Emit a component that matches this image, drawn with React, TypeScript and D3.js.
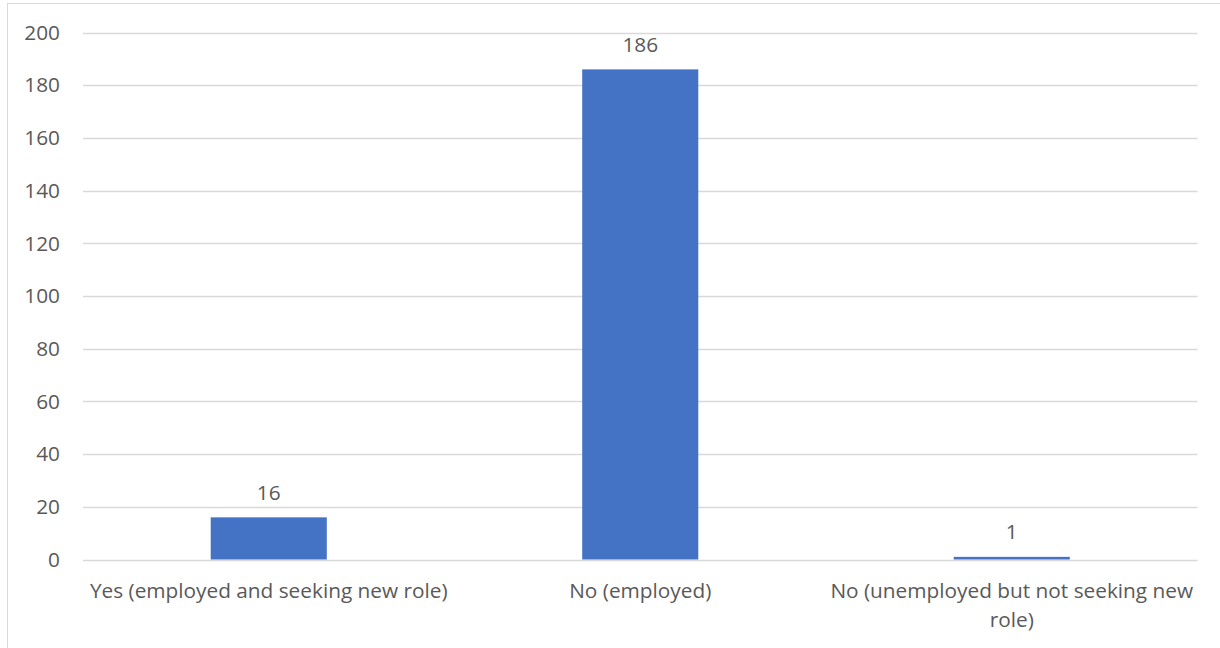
import React, { useEffect, useRef } from "react";
import * as d3 from "d3";

const categories: string[] = [
  "Yes (employed and seeking new role)",
  "No (employed)",
  "No (unemployed but not seeking new role)",
];
const values: number[] = [16, 186, 1];
const yTicks: number[] = [0, 20, 40, 60, 80, 100, 120, 140, 160, 180, 200];

const W = 1220;
const H = 648;
const FONT = "'Open Sans', 'Noto Sans', sans-serif";
const FS = 20.8;
const TEXT = "#595959";

export default function App() {
  const ref = useRef<SVGSVGElement | null>(null);

  useEffect(() => {
    const svg = d3.select(ref.current!);
    svg.selectAll("*").remove();

    const left = 83, right = 1197.5, top = 32.5, bottom = 559.5;

    svg.append("rect")
      .attr("x", 7.5).attr("y", 3.5)
      .attr("width", 1230).attr("height", 660)
      .attr("fill", "#fff").attr("stroke", "#d9d9d9").attr("stroke-width", 1);

    const x = d3.scaleBand<string>().domain(categories).range([left, right]).paddingInner(0.6875).paddingOuter(0.34375);
    const y = d3.scaleLinear().domain([0, 200]).range([bottom, top]);

    const g = svg.append("g");

    g.selectAll("line.grid").data(yTicks).join("line")
      .attr("class", "grid")
      .attr("x1", left).attr("x2", right)
      .attr("y1", (d) => Math.round(y(d)) + 0.5).attr("y2", (d) => Math.round(y(d)) + 0.5)
      .attr("stroke", "#d9d9d9").attr("stroke-width", 1.3);

    g.selectAll("text.ytick").data(yTicks).join("text")
      .attr("class", "ytick")
      .attr("x", 60).attr("y", (d) => y(d))
      .attr("dy", "0.35em")
      .attr("text-anchor", "end")
      .attr("font-family", FONT).attr("font-size", FS).attr("fill", TEXT)
      .text((d) => String(d));

    g.selectAll("rect.bar").data(values).join("rect")
      .attr("class", "bar")
      .attr("x", (_, i) => x(categories[i])!)
      .attr("width", x.bandwidth())
      .attr("y", (d) => y(d))
      .attr("height", (d) => Math.max(1.5, y(0) - y(d)))
      .attr("fill", "#4472c4");

    g.selectAll("text.lbl").data(values).join("text")
      .attr("class", "lbl")
      .attr("x", (_, i) => x(categories[i])! + x.bandwidth() / 2)
      .attr("y", (d) => y(d) - 25)
      .attr("dy", "0.35em")
      .attr("text-anchor", "middle")
      .attr("font-family", FONT).attr("font-size", FS).attr("fill", TEXT)
      .text((d) => String(d));

    const step = x.step();
    categories.forEach((c) => {
      const cx = x(c)! + x.bandwidth() / 2;
      const t = g.append("text")
        .attr("x", cx).attr("y", 598)
        .attr("text-anchor", "middle")
        .attr("font-family", FONT).attr("font-size", FS).attr("fill", TEXT);
      const words = c.split(" ");
      let line: string[] = [];
      let tspan = t.append("tspan").attr("x", cx).attr("dy", 0);
      words.forEach((w) => {
        line.push(w);
        tspan.text(line.join(" "));
        if ((tspan.node() as SVGTextContentElement).getComputedTextLength() > step + 4 && line.length > 1) {
          line.pop();
          tspan.text(line.join(" "));
          line = [w];
          tspan = t.append("tspan").attr("x", cx).attr("dy", 29).text(w);
        }
      });
    });
  }, []);

  return (
    <svg ref={ref} width={W} height={H} style={{ position: "absolute", left: 0, top: 0, display: "block" }} />
  );
}
